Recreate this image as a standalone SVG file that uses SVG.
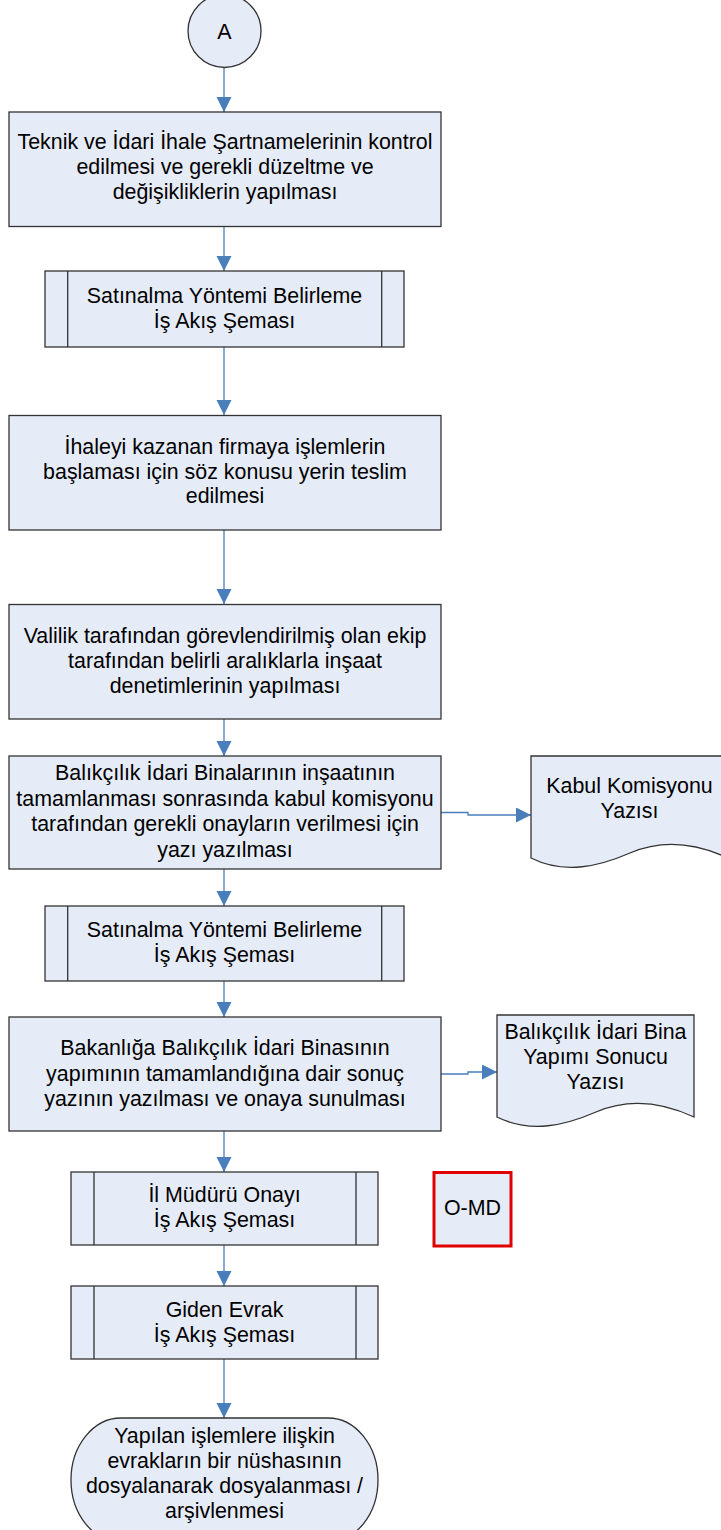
<svg xmlns="http://www.w3.org/2000/svg" width="721" height="1530" viewBox="0 0 721 1530">
<style>
.box{fill:#e6ecf7;stroke:#333;stroke-width:1.3}
.sub{fill:none;stroke:#333;stroke-width:1.3}
.t{font-family:"Liberation Sans",Arial,sans-serif;font-size:21.4px;fill:#000;text-anchor:middle}
.c{fill:none;stroke:#4a7ebb;stroke-width:1.3}
.red{fill:#e6ecf7;stroke:#e00000;stroke-width:3}
</style>
<defs>
<marker id="ah" markerUnits="userSpaceOnUse" markerWidth="16" markerHeight="16" refX="15" refY="7.5" orient="auto">
<path d="M0,0 L15,7.5 L0,15 Z" fill="#4a7ebb"/>
</marker>
</defs>
<rect width="721" height="1530" fill="#fff"/>

<g id="connectors">
<path class="c" d="M224,67 V112" marker-end="url(#ah)"/>
<path class="c" d="M224,227 V271" marker-end="url(#ah)"/>
<path class="c" d="M224,347 V415" marker-end="url(#ah)"/>
<path class="c" d="M224,530 V604" marker-end="url(#ah)"/>
<path class="c" d="M224,719 V756" marker-end="url(#ah)"/>
<path class="c" d="M224,869 V906" marker-end="url(#ah)"/>
<path class="c" d="M224,981 V1017" marker-end="url(#ah)"/>
<path class="c" d="M224,1131 V1172" marker-end="url(#ah)"/>
<path class="c" d="M224,1245 V1286" marker-end="url(#ah)"/>
<path class="c" d="M224,1359 V1418" marker-end="url(#ah)"/>
<path class="c" d="M441,812.5 H468 V815 H531" marker-end="url(#ah)"/>
<path class="c" d="M441,1074 H468 V1072 H497" marker-end="url(#ah)"/>
</g>

<g id="start">
<circle cx="224.5" cy="31" r="36.5" class="box"/>
<text class="t" x="224.5" y="38.5">A</text>
</g>

<g id="step1">
<rect class="box" x="9" y="112" width="432" height="114.5"/>
<text class="t" x="225" y="149">Teknik ve İdari İhale Şartnamelerinin kontrol</text>
<text class="t" x="225" y="174">edilmesi ve gerekli düzeltme ve</text>
<text class="t" x="225" y="199">değişikliklerin yapılması</text>
</g>

<g id="sub1">
<rect class="box" x="45" y="271" width="359" height="76"/>
<path class="sub" d="M67.7,271 V347 M381.7,271 V347"/>
<text class="t" x="224.5" y="303">Satınalma Yöntemi Belirleme</text>
<text class="t" x="224.5" y="328">İş Akış Şeması</text>
</g>

<g id="step3">
<rect class="box" x="9" y="415.5" width="432" height="114.5"/>
<text class="t" x="225" y="454">İhaleyi kazanan firmaya işlemlerin</text>
<text class="t" x="225" y="478.5">başlaması için söz konusu yerin teslim</text>
<text class="t" x="225" y="503">edilmesi</text>
</g>

<g id="step4">
<rect class="box" x="9" y="604.5" width="432" height="114.5"/>
<text class="t" x="225" y="643">Valilik tarafından görevlendirilmiş olan ekip</text>
<text class="t" x="225" y="668">tarafından belirli aralıklarla inşaat</text>
<text class="t" x="225" y="693">denetimlerinin yapılması</text>
</g>

<g id="step5">
<rect class="box" x="9" y="756" width="432" height="113"/>
<text class="t" x="225" y="780">Balıkçılık İdari Binalarının inşaatının</text>
<text class="t" x="225" y="805.5">tamamlanması sonrasında kabul komisyonu</text>
<text class="t" x="225" y="831">tarafından gerekli onayların verilmesi için</text>
<text class="t" x="225" y="856.5">yazı yazılması</text>
</g>

<g id="doc1">
<path class="box" d="M531,756 H728 V858 C700,845 665,838 630,853 C600,866 565,875 531,858 Z"/>
<text class="t" x="629.5" y="793">Kabul Komisyonu</text>
<text class="t" x="629.5" y="818">Yazısı</text>
</g>

<g id="sub2">
<rect class="box" x="45" y="906" width="359" height="75"/>
<path class="sub" d="M67.7,906 V981 M381.7,906 V981"/>
<text class="t" x="224.5" y="937">Satınalma Yöntemi Belirleme</text>
<text class="t" x="224.5" y="962">İş Akış Şeması</text>
</g>

<g id="step6">
<rect class="box" x="9" y="1017" width="432" height="114"/>
<text class="t" x="225" y="1055">Bakanlığa Balıkçılık İdari Binasının</text>
<text class="t" x="225" y="1080.5">yapımının tamamlandığına dair sonuç</text>
<text class="t" x="225" y="1106">yazının yazılması ve onaya sunulması</text>
</g>

<g id="doc2">
<path class="box" d="M497,1015 H694 V1117 C666,1104 631,1097 596,1112 C566,1125 531,1134 497,1117 Z"/>
<text class="t" x="595.5" y="1039">Balıkçılık İdari Bina</text>
<text class="t" x="595.5" y="1064">Yapımı Sonucu</text>
<text class="t" x="595.5" y="1089">Yazısı</text>
</g>

<g id="sub3">
<rect class="box" x="71" y="1172" width="307" height="73"/>
<path class="sub" d="M94,1172 V1245 M356,1172 V1245"/>
<text class="t" x="224.5" y="1202">İl Müdürü Onayı</text>
<text class="t" x="224.5" y="1227">İş Akış Şeması</text>
</g>

<g id="omd">
<rect class="red" x="434" y="1172.5" width="77" height="73.5"/>
<text class="t" x="472.5" y="1215">O-MD</text>
</g>

<g id="sub4">
<rect class="box" x="71" y="1286" width="307" height="73"/>
<path class="sub" d="M94,1286 V1359 M356,1286 V1359"/>
<text class="t" x="224.5" y="1317">Giden Evrak</text>
<text class="t" x="224.5" y="1341.5">İş Akış Şeması</text>
</g>

<g id="end">
<rect class="box" x="71" y="1418" width="307" height="124" rx="50" ry="62"/>
<text class="t" x="224.5" y="1443">Yapılan işlemlere ilişkin</text>
<text class="t" x="224.5" y="1468">evrakların bir nüshasının</text>
<text class="t" x="224.5" y="1493">dosyalanarak dosyalanması /</text>
<text class="t" x="224.5" y="1518">arşivlenmesi</text>
</g>
</svg>
